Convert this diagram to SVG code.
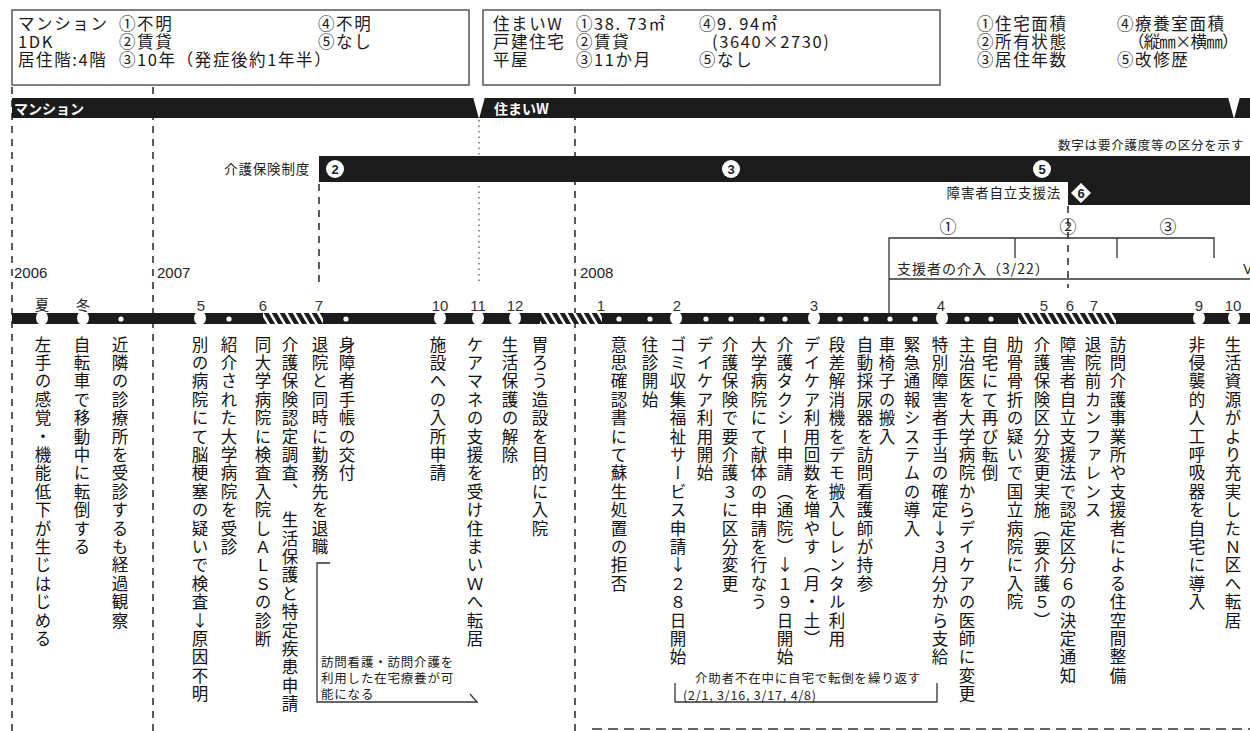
<svg xmlns="http://www.w3.org/2000/svg" width="1250" height="731" viewBox="0 0 1250 731">
<defs>
<style>
.bx{fill:none;stroke:#555;stroke-width:1.5}
.bt{font-family:"Noto Sans CJK JP",sans-serif;font-size:16.5px;letter-spacing:1.6px;fill:#1a1a1a}
.lat{font-family:"Liberation Sans","Noto Sans CJK JP",sans-serif;fill:#222}
.jp{font-family:"Noto Sans CJK JP",sans-serif;fill:#222}
.wb{font-family:"Noto Sans CJK JP",sans-serif;font-weight:bold;font-size:14px;fill:#fff}
.blk{fill:#1c1c1c}
.dash{stroke:#333;stroke-width:1.6;stroke-dasharray:7 6;fill:none}
.dot{stroke:#555;stroke-width:1.3;stroke-dasharray:1.5 4;fill:none}
.ln{stroke:#333;stroke-width:1.3;fill:none}
.v{font-family:"Noto Sans CJK JP",sans-serif;font-size:16.5px;letter-spacing:1.9px;writing-mode:vertical-rl;text-orientation:upright;fill:#111}
.mon{font-family:"Liberation Sans",sans-serif;font-size:15px;fill:#333;text-anchor:middle}
.big{fill:#fff}
.sm{fill:#fff}
.cn{font-family:"Liberation Sans",sans-serif;font-size:13px;font-weight:bold;fill:#1c1c1c;text-anchor:middle}
.note{font-family:"Noto Sans CJK JP",sans-serif;font-size:12.5px;letter-spacing:0.8px;fill:#222}
</style>
<pattern id="hatch" width="8" height="20" patternUnits="userSpaceOnUse" patternTransform="skewX(30)">
<rect width="8" height="20" fill="#1c1c1c"/>
<rect x="0" width="3" height="20" fill="#fff"/>
</pattern>
</defs>
<rect width="1250" height="731" fill="#fff"/>

<g id="gridlines">
<line class="dash" x1="12" y1="87" x2="12" y2="731"/>
<line class="dash" x1="153" y1="87" x2="153" y2="731"/>
<line class="dash" x1="575" y1="87" x2="575" y2="731"/>
<line class="dash" x1="319" y1="184" x2="319" y2="282"/>
<line class="dash" x1="1068" y1="206" x2="1068" y2="288"/>
<line class="dot" x1="479" y1="120" x2="479" y2="283"/>
<line class="dash" x1="592" y1="729" x2="1250" y2="729" style="stroke-dasharray:10 6"/>
</g>

<g id="box-mansion">
<rect class="bx" x="12" y="10" width="457" height="75"/>
<text class="bt" x="18" y="30">マンション</text>
<text class="bt" x="119" y="30">①不明</text>
<text class="bt" x="318" y="30">④不明</text>
<text class="bt" x="18" y="48">1DK</text>
<text class="bt" x="119" y="48">②賃貸</text>
<text class="bt" x="318" y="48">⑤なし</text>
<text class="bt" x="18" y="66">居住階:4階</text>
<text class="bt" x="119" y="66" letter-spacing="0.3">③10年（発症後約1年半）</text>
</g>

<g id="box-w">
<rect class="bx" x="483" y="10" width="457" height="75"/>
<text class="bt" x="493" y="30">住まいW</text>
<text class="bt" x="576" y="30" letter-spacing="0.5">①38. 73㎡</text>
<text class="bt" x="699" y="30" letter-spacing="0.5">④9. 94㎡</text>
<text class="bt" x="493" y="48">戸建住宅</text>
<text class="bt" x="576" y="48">②賃貸</text>
<text class="bt" x="712" y="48" letter-spacing="0.3">(3640×2730)</text>
<text class="bt" x="493" y="66">平屋</text>
<text class="bt" x="576" y="66" letter-spacing="0.5">③11か月</text>
<text class="bt" x="699" y="66">⑤なし</text>
</g>

<g id="legend">
<text class="bt" x="977" y="30">①住宅面積</text>
<text class="bt" x="1117" y="30">④療養室面積</text>
<text class="bt" x="977" y="48">②所有状態</text>
<text class="bt" x="1128" y="48" letter-spacing="0" textLength="112">（縦㎜×横㎜）</text>
<text class="bt" x="977" y="66">③居住年数</text>
<text class="bt" x="1117" y="66">⑤改修歴</text>
</g>

<g id="band-residence">
<rect class="blk" x="12" y="98" width="1238" height="20"/>
<polygon points="473,97 485,97 479,119" fill="#fff"/>
<polygon points="1228,97 1240,97 1234,119" fill="#fff"/>
<text class="wb" x="14" y="114">マンション</text>
<text class="wb" x="494" y="114">住まいW</text>
</g>

<g id="band-care">
<text class="jp" x="310" y="174" font-size="13.5" text-anchor="end" letter-spacing="0.8">介護保険制度</text>
<rect class="blk" x="319" y="156" width="931" height="26"/>
<circle cx="335" cy="169" r="9" fill="#fff"/>
<text class="cn" x="335" y="174">2</text>
<circle cx="731" cy="169" r="9" fill="#fff"/>
<text class="cn" x="731" y="174">3</text>
<circle cx="1042" cy="169" r="9" fill="#fff"/>
<text class="cn" x="1042" y="174">5</text>
<text class="jp" x="1058" y="150" font-size="12.5" letter-spacing="0.8">数字は要介護度等の区分を示す</text>
</g>

<g id="band-support-law">
<rect class="blk" x="1068" y="181" width="182" height="24"/>
<text class="jp" x="1061" y="198" font-size="13.5" text-anchor="end" letter-spacing="0.8">障害者自立支援法</text>
<polygon points="1081,183 1091,193 1081,203 1071,193" fill="#fff"/>
<text class="cn" x="1081" y="198">6</text>
</g>

<g id="support-bracket">
<path class="ln" d="M889 313 V238 H1214 V258 M1015 238 V258 M1117 238 V258 M889 279 H1250"/>
<text class="jp" x="948" y="233" font-size="17" text-anchor="middle">①</text>
<text class="jp" x="1068" y="233" font-size="17" text-anchor="middle">②</text>
<text class="jp" x="1168" y="233" font-size="17" text-anchor="middle">③</text>
<text class="jp" x="897" y="274" font-size="14" letter-spacing="1">支援者の介入（3/22）</text>
<text class="lat" x="1243" y="274" font-size="14">V</text>
</g>

<g id="years">
<text class="lat" x="14" y="278" font-size="15">2006</text>
<text class="lat" x="157" y="278" font-size="15">2007</text>
<text class="lat" x="580" y="278" font-size="15">2008</text>
</g>

<g id="timeline">
<rect class="blk" x="12" y="313" width="1238" height="11"/>
<rect x="263" y="313" width="60" height="11" fill="url(#hatch)"/>
<rect x="540" y="313" width="62" height="11" fill="url(#hatch)"/>
<rect x="1018" y="313" width="98" height="11" fill="url(#hatch)"/>
<g class="big">
<ellipse cx="42" cy="318" rx="6" ry="7"/>
<ellipse cx="83" cy="318" rx="6" ry="7"/>
<ellipse cx="200" cy="318" rx="6" ry="7"/>
<ellipse cx="440" cy="318" rx="6" ry="7"/>
<ellipse cx="478" cy="318" rx="6" ry="7"/>
<ellipse cx="515" cy="318" rx="6" ry="7"/>
<ellipse cx="676" cy="318" rx="6" ry="7"/>
<ellipse cx="814" cy="318" rx="6" ry="7"/>
<ellipse cx="942" cy="318" rx="6" ry="7"/>
<ellipse cx="1199" cy="318" rx="6" ry="7"/>
<ellipse cx="1234" cy="318" rx="6" ry="7"/>
</g>
<g class="sm">
<circle cx="121" cy="319" r="2.6"/>
<circle cx="229" cy="319" r="2.6"/>
<circle cx="346" cy="319" r="2.6"/>
<circle cx="619" cy="319" r="2.6"/>
<circle cx="650" cy="319" r="2.6"/>
<circle cx="706" cy="319" r="2.6"/>
<circle cx="731" cy="319" r="2.6"/>
<circle cx="762" cy="319" r="2.6"/>
<circle cx="785" cy="319" r="2.6"/>
<circle cx="840" cy="319" r="2.6"/>
<circle cx="866" cy="319" r="2.6"/>
<circle cx="890" cy="319" r="2.6"/>
<circle cx="915" cy="319" r="2.6"/>
<circle cx="967" cy="319" r="2.6"/>
<circle cx="991" cy="319" r="2.6"/>
</g>
<text class="jp" x="42" y="310" font-size="14" text-anchor="middle">夏</text>
<text class="jp" x="83" y="310" font-size="14" text-anchor="middle">冬</text>
<text class="mon" x="201" y="311">5</text>
<text class="mon" x="263" y="311">6</text>
<text class="mon" x="319" y="311">7</text>
<text class="mon" x="440" y="311">10</text>
<text class="mon" x="478" y="311">11</text>
<text class="mon" x="515" y="311">12</text>
<text class="mon" x="601" y="311">1</text>
<text class="mon" x="677" y="311">2</text>
<text class="mon" x="814" y="311">3</text>
<text class="mon" x="941" y="311">4</text>
<text class="mon" x="1044" y="311">5</text>
<text class="mon" x="1070" y="311">6</text>
<text class="mon" x="1094" y="311">7</text>
<text class="mon" x="1199" y="311">9</text>
<text class="mon" x="1233" y="311">10</text>
</g>

<g id="events">
<g id="ev01"><text class="v" x="43" y="336">左手の感覚・機能低下が生じはじめる</text></g>
<g id="ev02"><text class="v" x="82" y="336">自転車で移動中に転倒する</text></g>
<g id="ev03"><text class="v" x="120" y="336">近隣の診療所を受診するも経過観察</text></g>
<g id="ev04"><text class="v" x="200" y="336">別の病院にて脳梗塞の疑いで検査↓原因不明</text></g>
<g id="ev05"><text class="v" x="229" y="336">紹介された大学病院を受診</text></g>
<g id="ev06"><text class="v" x="263" y="336">同大学病院に検査入院しＡＬＳの診断</text></g>
<g id="ev07"><text class="v" x="290" y="336">介護保険認定調査、　生活保護と特定疾患申請</text></g>
<g id="ev08"><text class="v" x="320" y="336">退院と同時に勤務先を退職</text></g>
<g id="ev09"><text class="v" x="347" y="336">身障者手帳の交付</text></g>
<g id="ev10"><text class="v" x="438" y="336">施設への入所申請</text></g>
<g id="ev11"><text class="v" x="475" y="336">ケアマネの支援を受け住まいＷへ転居</text></g>
<g id="ev12"><text class="v" x="510" y="336">生活保護の解除</text></g>
<g id="ev13"><text class="v" x="540" y="336">胃ろう造設を目的に入院</text></g>
<g id="ev14"><text class="v" x="619" y="336">意思確認書にて蘇生処置の拒否</text></g>
<g id="ev15"><text class="v" x="650" y="336">往診開始</text></g>
<g id="ev16"><text class="v" x="678" y="336">ゴミ収集福祉サービス申請↓２８日開始</text></g>
<g id="ev17"><text class="v" x="705" y="336">デイケア利用開始</text></g>
<g id="ev18"><text class="v" x="730" y="336">介護保険で要介護３に区分変更</text></g>
<g id="ev19"><text class="v" x="759" y="336">大学病院にて献体の申請を行なう</text></g>
<g id="ev20"><text class="v" x="785" y="336">介護タクシー申請（通院）↓１９日開始</text></g>
<g id="ev21"><text class="v" x="812" y="336">デイケア利用回数を増やす（月・土）</text></g>
<g id="ev22"><text class="v" x="837" y="336">段差解消機をデモ搬入しレンタル利用</text></g>
<g id="ev23"><text class="v" x="865" y="336">自動採尿器を訪問看護師が持参</text></g>
<g id="ev24"><text class="v" x="887" y="336">車椅子の搬入</text></g>
<g id="ev25"><text class="v" x="912" y="336">緊急通報システムの導入</text></g>
<g id="ev26"><text class="v" x="940" y="336">特別障害者手当の確定↓３月分から支給</text></g>
<g id="ev27"><text class="v" x="967" y="336">主治医を大学病院からデイケアの医師に変更</text></g>
<g id="ev28"><text class="v" x="990" y="336">自宅にて再び転倒</text></g>
<g id="ev29"><text class="v" x="1015" y="336">肋骨骨折の疑いで国立病院に入院</text></g>
<g id="ev30"><text class="v" x="1042" y="336">介護保険区分変更実施（要介護５）</text></g>
<g id="ev31"><text class="v" x="1068" y="336">障害者自立支援法で認定区分６の決定通知</text></g>
<g id="ev32"><text class="v" x="1093" y="336">退院前カンファレンス</text></g>
<g id="ev33"><text class="v" x="1118" y="336">訪問介護事業所や支援者による住空間整備</text></g>
<g id="ev34"><text class="v" x="1197" y="336">非侵襲的人工呼吸器を自宅に導入</text></g>
<g id="ev35"><text class="v" x="1233" y="336">生活資源がより充実したＮ区へ転居</text></g>
</g>

<g id="connectors">
<path class="ln" d="M330 563 H317 V702 H477 L470 694"/>
<path class="ln" d="M675 683 V702 H937 V683"/>
</g>

<g id="notes">
<text class="note" x="321" y="667">訪問看護・訪問介護を</text>
<text class="note" x="321" y="683">利用した在宅療養が可</text>
<text class="note" x="321" y="699">能になる</text>
<text class="note" x="695" y="683">介助者不在中に自宅で転倒を繰り返す</text>
<text class="note" x="683" y="700" letter-spacing="0">(2/1, 3/16, 3/17, 4/8)</text>
</g>
</svg>
